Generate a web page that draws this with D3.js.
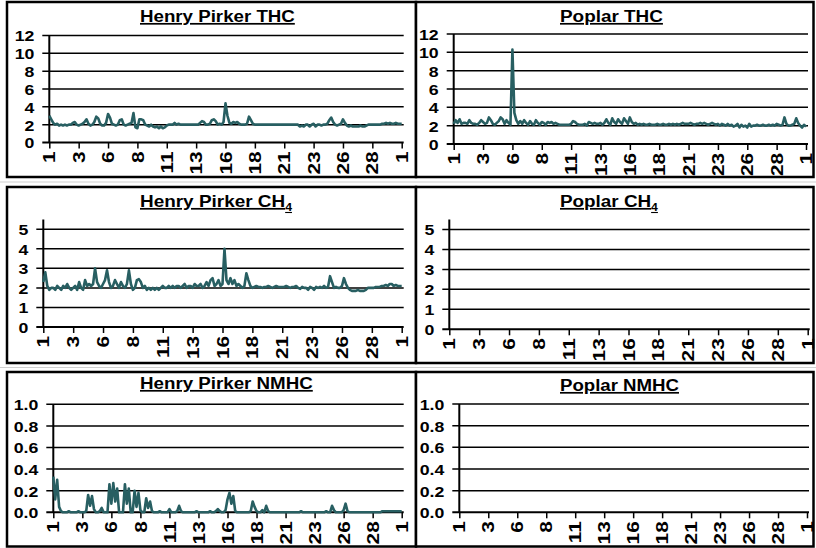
<!DOCTYPE html>
<html><head><meta charset="utf-8">
<script src="https://cdn.jsdelivr.net/npm/d3@7"></script>
<style>
html,body{margin:0;padding:0;background:#fff;}
svg{display:block;font-family:"Liberation Sans",Arial,sans-serif;}
</style></head><body>
<svg id="chart" width="816" height="548"></svg>
<script>
// ---- data (4-hour readings, 1st of month to 1st of next month) ----
const xTickLabels = ["1","3","6","8","11","13","16","18","21","23","26","28","1"];
const thcTicks = [0,2,4,6,8,10,12];
const ch4Ticks = [0,1,2,3,4,5];
const nmhcTicks = [0,0.2,0.4,0.6,0.8,1.0];

const hpTHC = [
3.0,2.6,2.2,2.0,2.1,1.9, 2.0,1.9,2.0,1.9,2.0,2.0, 2.2,2.3,2.0,1.9,2.0,2.1,
2.3,2.6,2.1,1.9,2.0,2.3, 2.9,2.7,2.1,1.9,1.9,2.2, 3.2,2.8,2.1,2.0,1.9,2.0,
2.5,2.6,2.0,1.9,2.0,2.1, 2.2,3.3,1.7,1.6,2.6,2.6, 2.5,2.0,1.9,1.8,2.0,1.8,
1.7,1.8,1.6,1.8,1.6,1.7, 1.9,2.0,2.0,2.0,2.2,2.0, 2.1,2.0,2.0,2.0,2.0,2.0,
2.0,2.0,2.0,2.0,2.0,2.2, 2.4,2.3,2.0,2.0,2.1,2.5, 2.6,2.4,2.0,2.1,2.0,2.3,
4.4,3.0,2.2,2.1,2.3,2.2, 2.3,2.1,2.0,2.0,2.0,2.1, 2.9,2.5,2.1,2.0,2.0,2.0,
2.0,2.0,2.0,2.0,2.0,2.0, 2.0,2.0,2.0,2.0,2.0,2.0, 2.0,2.0,2.0,2.0,2.0,2.0,
2.0,2.0,1.8,1.9,1.8,2.0, 2.0,1.8,2.0,2.1,1.8,2.0, 2.0,1.9,2.0,2.0,2.1,2.5,
2.8,2.3,2.0,1.9,2.0,2.1, 2.6,2.2,1.9,1.8,1.9,1.8, 1.8,1.8,1.8,1.9,1.8,1.8,
1.9,2.0,2.0,2.0,2.0,2.0, 2.0,2.0,2.1,2.1,2.2,2.1, 2.2,2.1,2.1,2.2,2.1,2.1,
2.1];

const poplarTHC = [
2.2,2.6,2.3,2.7,2.2,2.3, 2.3,2.2,2.6,2.3,2.2,2.2, 2.1,2.3,2.6,2.4,2.2,2.3,
2.9,2.6,2.2,2.1,2.3,2.5, 2.9,2.7,2.2,2.6,2.3,2.1, 10.3,3.4,2.6,2.2,2.5,2.2,
2.6,2.3,2.1,2.5,2.2,2.1, 2.6,2.3,2.1,2.4,2.3,2.1, 2.4,2.3,2.4,2.2,2.3,2.2,
2.1,2.1,2.1,2.1,2.1,2.1, 2.2,2.5,2.4,2.2,2.1,2.1, 2.1,2.2,2.0,2.4,2.3,2.2,
2.3,2.2,2.2,2.3,2.1,2.3, 2.7,2.3,2.1,2.8,2.4,2.2, 2.7,2.4,2.2,2.8,2.5,2.2,
2.9,2.4,2.2,2.3,2.1,2.2, 2.1,2.2,2.1,2.1,2.2,2.1, 2.1,2.1,2.2,2.1,2.1,2.2,
2.1,2.1,2.2,2.1,2.2,2.1, 2.2,2.1,2.2,2.3,2.2,2.2, 2.2,2.3,2.2,2.1,2.2,2.2,
2.3,2.2,2.3,2.2,2.1,2.2, 2.3,2.2,2.1,2.2,2.0,2.2, 2.1,2.0,2.2,2.0,2.1,1.9,
2.0,2.2,1.8,2.1,1.9,2.0, 1.8,2.2,1.9,2.0,2.0,2.1, 2.0,2.0,2.1,2.0,2.0,2.1,
2.0,2.1,2.0,2.2,2.1,2.0, 2.1,2.9,2.2,2.0,2.0,2.1, 2.2,2.8,2.3,2.0,1.8,2.1,
1.9];

const hpCH4 = [
2.3,2.8,2.1,1.9,2.0,2.0, 1.9,2.1,2.0,1.9,2.1,2.0, 2.2,2.0,1.9,2.0,2.1,1.9,
2.3,2.0,1.9,2.4,2.1,2.2, 2.1,2.2,3.0,2.3,2.1,2.0, 2.2,2.4,2.9,2.3,2.0,2.1,
2.4,2.2,2.0,2.3,2.1,2.0, 2.2,2.9,2.2,1.9,2.0,2.4, 2.45,2.3,2.0,2.1,1.9,2.0,
1.9,2.0,1.9,2.0,1.9,2.0, 2.1,2.0,2.0,2.1,2.0,2.1, 2.0,2.1,2.1,2.0,2.1,2.2,
2.0,2.1,2.1,2.0,2.2,2.1, 2.1,2.2,2.0,2.1,2.3,2.1, 2.4,2.5,2.1,2.2,2.4,2.1,
2.2,4.0,2.4,2.2,2.5,2.2, 2.4,2.1,2.2,2.1,2.0,2.1, 2.75,2.4,2.1,2.0,2.05,2.1,
2.05,2.05,2.0,2.05,2.05,2.1, 2.05,2.0,2.05,2.1,2.05,2.05, 2.05,2.05,2.1,2.05,2.0,2.05,
2.05,2.1,2.0,1.95,2.05,2.0, 2.0,1.9,2.05,2.0,1.9,2.05, 2.0,2.05,2.0,2.1,2.0,2.05,
2.6,2.3,2.0,2.05,2.0,2.0, 2.1,2.5,2.2,2.0,1.9,1.85, 1.85,1.85,1.9,1.85,1.85,1.85,
1.9,2.0,2.0,2.0,2.0,2.05, 2.05,2.05,2.1,2.1,2.15,2.1, 2.2,2.2,2.1,2.15,2.1,2.1,
2.1];

const hpNMHC = [
0.33,0.12,0.30,0.05,0.01,0.0, 0.0,0.0,0.01,0.0,0.0,0.0, 0.0,0.01,0.0,0.0,0.0,0.01,
0.16,0.06,0.15,0.03,0.0,0.0, 0.01,0.04,0.0,0.0,0.0,0.26, 0.08,0.27,0.10,0.22,0.0,0.0,
0.0,0.26,0.08,0.22,0.0,0.0, 0.20,0.05,0.18,0.02,0.0,0.0, 0.13,0.04,0.10,0.01,0.0,0.0,
0.0,0.01,0.0,0.0,0.0,0.0, 0.03,0.0,0.0,0.0,0.01,0.06, 0.01,0.0,0.0,0.0,0.0,0.0,
0.0,0.0,0.01,0.0,0.0,0.0, 0.0,0.0,0.0,0.01,0.0,0.0, 0.01,0.03,0.01,0.0,0.0,0.02,
0.12,0.18,0.08,0.15,0.01,0.0, 0.0,0.0,0.0,0.0,0.0,0.0, 0.01,0.10,0.05,0.01,0.0,0.0,
0.02,0.0,0.06,0.01,0.0,0.0, 0.0,0.0,0.0,0.0,0.0,0.0, 0.0,0.0,0.0,0.0,0.0,0.0,
0.0,0.0,0.01,0.0,0.0,0.0, 0.0,0.0,0.0,0.0,0.0,0.0, 0.0,0.0,0.0,0.01,0.0,0.0,
0.06,0.02,0.0,0.0,0.0,0.0, 0.02,0.08,0.01,0.0,0.0,0.0, 0.0,0.0,0.0,0.0,0.0,0.0,
0.0,0.0,0.0,0.0,0.0,0.0, 0.0,0.0,0.01,0.01,0.01,0.01, 0.01,0.01,0.01,0.01,0.01,0.01,
0.01];

const poplarCH4 = [];
const poplarNMHC = [];

// ---- drawing ----
const svg = d3.select("#chart");
const LINE = "#285f62";
const N = 181, STEP = 15;
const tickIdx = d3.range(0, N, STEP);
const XL_SCALE = 1.3;
const YL_SCALE = 1.18;

const panels = [
 {title:"Henry Pirker THC", sub:"", data:hpTHC, ticks:thcTicks, fmt:d3.format("d"), yMax:12,
  box:[7,2,416,177], x0:49.3, x1:401.7, y0:142.5, yTop:35.5, tx:140, ty:22, tw:155},
 {title:"Poplar THC", sub:"", data:poplarTHC, ticks:thcTicks, fmt:d3.format("d"), yMax:12,
  box:[416,2,813.5,177], x0:453.7, x1:806, y0:144, yTop:34, tx:560, ty:22, tw:103},
 {title:"Henry Pirker CH", sub:"4", data:hpCH4, ticks:ch4Ticks, fmt:d3.format("d"), yMax:5.5,
  box:[7,187,416,363], x0:43.3, x1:401.7, y0:327, yTop:219.5, tx:140, ty:207, tw:153},
 {title:"Poplar CH", sub:"4", data:poplarCH4, ticks:ch4Ticks, fmt:d3.format("d"), yMax:5.5,
  box:[416,187,813.5,363], x0:449.3, x1:807.7, y0:329.3, yTop:219.5, tx:560, ty:207, tw:99},
 {title:"Henry Pirker NMHC", sub:"", data:hpNMHC, ticks:nmhcTicks, fmt:d3.format(".1f"), yMax:1,
  box:[7,372,416,546.5], x0:53.3, x1:401.7, y0:512.3, yTop:404.3, tx:140, ty:389, tw:173},
 {title:"Poplar NMHC", sub:"", data:poplarNMHC, ticks:nmhcTicks, fmt:d3.format(".1f"), yMax:1,
  box:[416,372,813.5,546.5], x0:459.3, x1:807, y0:512.3, yTop:404, tx:560, ty:391, tw:119}
];

// faint separators between rows
[182, 367.5].forEach(yy => svg.append("line").attr("x1",0).attr("x2",816).attr("y1",yy).attr("y2",yy)
  .attr("stroke","#cfcfcf").attr("stroke-width",1));

panels.forEach(p => {
  const g = svg.append("g");
  const [bx0,by0,bx1,by1] = p.box;
  g.append("rect").attr("x",bx0).attr("y",by0).attr("width",bx1-bx0).attr("height",by1-by0)
    .attr("fill","#fff").attr("stroke","#000").attr("stroke-width",2.5);

  const x = d3.scaleLinear().domain([0, N-1]).range([p.x0, p.x1]);
  const y = d3.scaleLinear().domain([0, p.yMax]).range([p.y0, p.yTop]);

  // gridlines + y ticks
  g.selectAll(".grid").data(p.ticks).enter().append("line")
    .attr("x1", p.x0 - 7).attr("x2", p.x1 + 2)
    .attr("y1", d => y(d)).attr("y2", d => y(d))
    .attr("stroke","#000").attr("stroke-width", d => d === 0 ? 2 : 1.5);

  // y labels
  g.selectAll(".yl").data(p.ticks).enter().append("text")
    .attr("x", 0).attr("y", 0)
    .attr("transform", d => `translate(${p.x0 - 15},${y(d) + 0.5}) scale(${YL_SCALE},1)`)
    .attr("text-anchor","end").attr("dominant-baseline","central")
    .attr("font-size","15px").attr("font-weight","bold").attr("fill","#000")
    .text(p.fmt);

  // y axis line
  g.append("line").attr("x1",p.x0).attr("x2",p.x0).attr("y1",p.y0).attr("y2",p.yTop)
    .attr("stroke","#000").attr("stroke-width",2);

  // x axis via d3
  const xAxis = d3.axisBottom(x).tickValues(tickIdx).tickFormat((d,i) => xTickLabels[i])
    .tickSizeInner(6).tickSizeOuter(0).tickPadding(0);
  const ax = g.append("g").attr("transform", `translate(0,${p.y0})`).call(xAxis);
  ax.select(".domain").remove();
  ax.selectAll(".tick line").attr("stroke","#000").attr("stroke-width",1.5);
  ax.selectAll(".tick text")
    .attr("transform",`rotate(-90) scale(${XL_SCALE},1)`).attr("x",-9/XL_SCALE).attr("y",0).attr("dy",null)
    .attr("text-anchor","end").attr("dominant-baseline","central")
    .attr("font-size","16px").attr("font-weight","bold").attr("fill","#000")
    .attr("font-family",'"Liberation Sans",Arial,sans-serif');

  // series line
  if (p.data.length) {
    const line = d3.line().x((d,i) => x(i)).y(d => y(d));
    g.append("path").datum(p.data).attr("d", line)
      .attr("fill","none").attr("stroke",LINE).attr("stroke-width",2.6)
      .attr("stroke-linejoin","round");
  }

  // title
  const t = g.append("text").attr("x",0).attr("y",0)
    .attr("font-size","17px").attr("font-weight","bold").attr("fill","#000")
    .style("text-decoration","underline")
    .text(p.title);
  if (p.sub) {
    t.append("tspan").attr("font-size","11px").attr("dy",4).text(p.sub);
  }
  const w = t.node().getBBox().width;
  const k = w > 0 ? p.tw / w : 1;
  t.attr("transform", `translate(${p.tx},${p.ty}) scale(${k},1)`);
});
</script>
</body></html>
